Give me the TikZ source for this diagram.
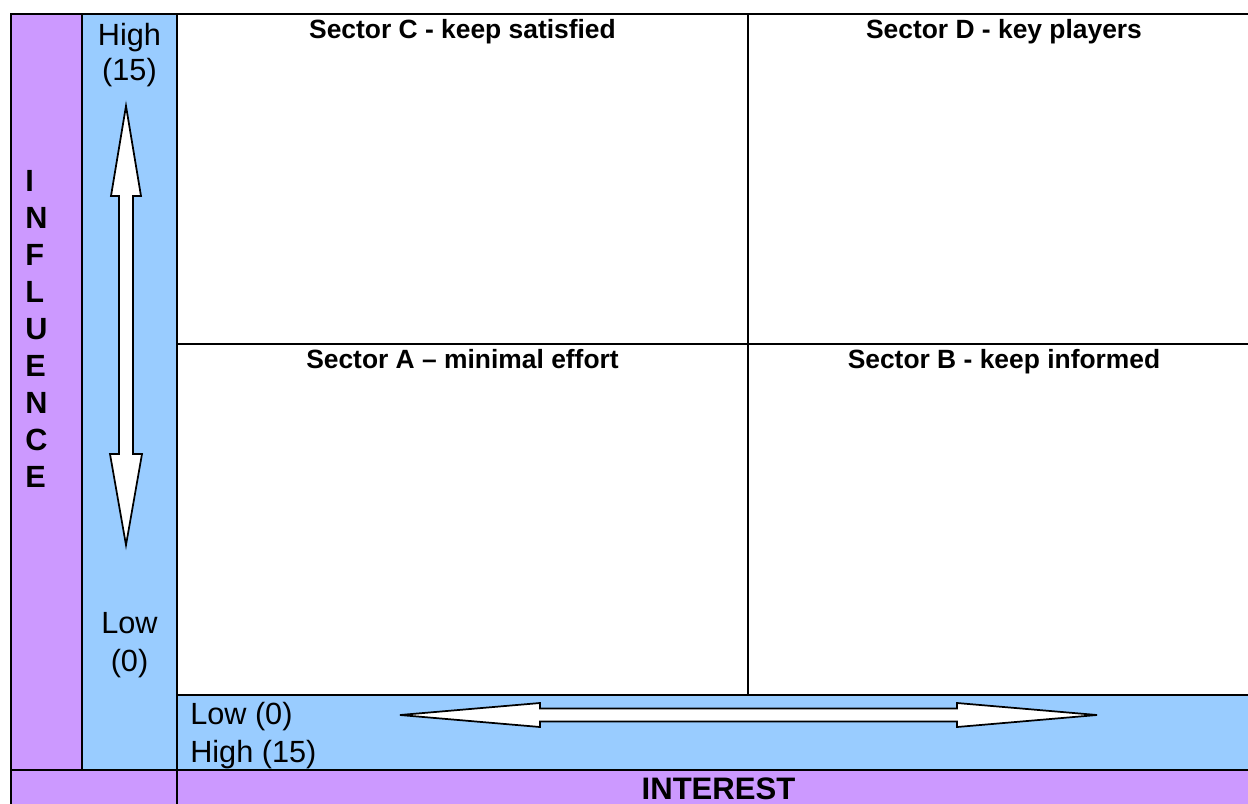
\documentclass[tikz,border=0pt]{standalone}
\usepackage{fontspec}
\setmainfont{Liberation Sans}
\definecolor{lilac}{HTML}{CC99FF}
\definecolor{skyb}{HTML}{99CCFF}
\begin{document}
\begin{tikzpicture}[x=0.75pt,y=-0.75pt,
  frame/.style={draw=black,line width=1.6pt},
  head/.style={font=\fontsize{19.8}{23}\selectfont\bfseries,anchor=base,inner sep=0pt},
  lab/.style={font=\fontsize{23}{27}\selectfont,anchor=base,inner sep=0pt},
  labw/.style={font=\fontsize{23}{27}\selectfont,anchor=base west,inner sep=0pt},
  axis/.style={font=\fontsize{23.3}{27}\selectfont\bfseries,anchor=base,inner sep=0pt},
  axisv/.style={font=\fontsize{23}{27}\selectfont\bfseries,anchor=base west,inner sep=0pt},
  arrowshape/.style={draw=black,fill=white,line width=1.3pt,line join=miter}]
\useasboundingbox (0,0) rectangle (1248,803);
\fill[white] (0,0) rectangle (1248,803);
% fills
\fill[lilac] (11,14) rectangle (82,810);
\fill[lilac] (82,770) rectangle (1265,810);
\fill[skyb] (82,14) rectangle (177,770);
\fill[skyb] (177,695) rectangle (1265,770);
% grid lines
\draw[frame] (11,810) -- (11,14) -- (1265,14);
\draw[frame] (82,14) -- (82,770);
\draw[frame] (177,14) -- (177,810);
\draw[frame] (748,14) -- (748,695);
\draw[frame] (177,344) -- (1265,344);
\draw[frame] (177,695) -- (1265,695);
\draw[frame] (11,770) -- (1265,770);
% sector headings
\node[head] (secC) at (462.5,38) {Sector C - keep satisfied};
\node[head] (secD) at (1004,38) {Sector D - key players};
\node[head] (secA) at (462.5,368) {Sector A – minimal effort};
\node[head] (secB) at (1004,368) {Sector B - keep informed};
% influence scale labels
\node[lab] (hiA) at (129.5,45) {High};
\node[lab] (hiB) at (129.5,80) {(15)};
\node[lab] (loA) at (129.5,633) {Low};
\node[lab] (loB) at (129.5,671) {(0)};
% interest scale labels
\node[labw] (ilo) at (190,724) {Low (0)};
\node[labw] (ihi) at (190,762) {High (15)};
% axis titles
\node[axis] (interest) at (718.5,799) {INTEREST};
\foreach \ch [count=\i from 0] in {I,N,F,L,U,E,N,C,E}{
  \node[axisv] (infl\i) at (25,191+37*\i) {\ch};
}
% vertical double arrow
\draw[arrowshape] (126,106) -- (141,196) -- (133,196) -- (133,454) -- (142,454)
  -- (126,545) -- (110,454) -- (119,454) -- (119,196) -- (111,196) -- cycle;
% horizontal double arrow
\draw[arrowshape] (400,715) -- (540,703) -- (540,708.5) -- (957,708.5) -- (957,703)
  -- (1097,715) -- (957,727) -- (957,721.5) -- (540,721.5) -- (540,727) -- cycle;
\end{tikzpicture}
\end{document}
